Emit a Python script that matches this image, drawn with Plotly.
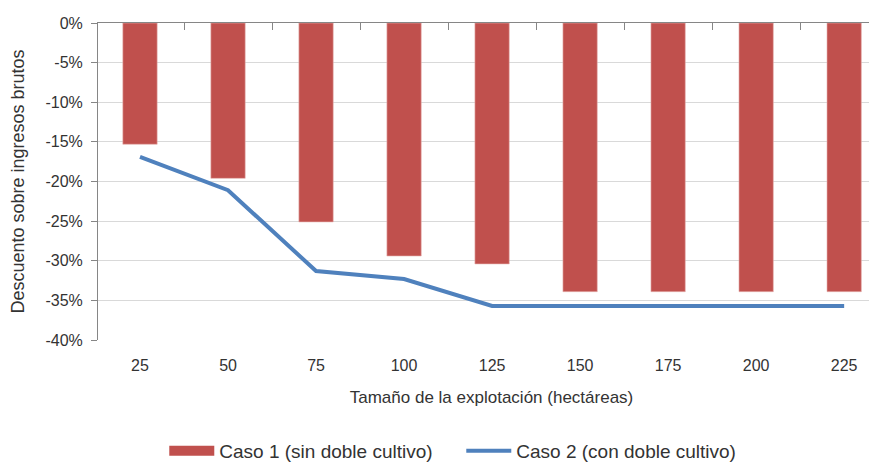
import plotly.graph_objects as go

sizes = [25, 50, 75, 100, 125, 150, 175, 200, 225]
caso1 = [-0.153, -0.196, -0.251, -0.294, -0.304, -0.339, -0.339, -0.339, -0.339]
caso2 = [-0.169, -0.211, -0.313, -0.323, -0.357, -0.357, -0.357, -0.357, -0.357]
y_ticks = [0, -0.05, -0.10, -0.15, -0.20, -0.25, -0.30, -0.35, -0.40]
y_tick_labels = ["0%", "-5%", "-10%", "-15%", "-20%", "-25%", "-30%", "-35%", "-40%"]
boundaries = [37.5, 62.5, 87.5, 112.5, 137.5, 162.5, 187.5, 212.5]

FONT = "Liberation Sans, Arial, sans-serif"
TXT = "#333333"
RED = "#C0504D"
BLUE = "#4F81BD"
XR = [13.07, 236.6]

fig = go.Figure()
fig.add_trace(go.Bar(
    x=sizes, y=caso1, name="Caso 1 (sin doble cultivo)",
    marker=dict(color=RED, line=dict(color="#E6B0AE", width=0.6)),
    showlegend=False, legendgroup="c1",
))
# legend proxy for the bar series (wide flat swatch like the original)
fig.add_trace(go.Scatter(
    x=[None], y=[None], name="Caso 1 (sin doble cultivo)", mode="lines",
    line=dict(color=RED, width=10), legendgroup="c1",
))
fig.add_trace(go.Scatter(
    x=sizes, y=caso2, name="Caso 2 (con doble cultivo)", mode="lines",
    line=dict(color=BLUE, width=4),
))
# invisible helper trace to carry the top axis with boundary ticks
fig.add_trace(go.Scatter(x=boundaries, y=[0]*len(boundaries), xaxis="x2",
                         mode="markers", marker=dict(opacity=0),
                         showlegend=False, hoverinfo="skip"))

fig.update_layout(
    width=877, height=462,
    margin=dict(l=90, r=0, t=15, b=123),
    paper_bgcolor="white", plot_bgcolor="white",
    font=dict(family=FONT, size=15, color=TXT),
    bargap=0.61,
    showlegend=True,
    legend=dict(orientation="h", x=0.4616, xanchor="center", y=-0.352, yanchor="middle",
                font=dict(family=FONT, size=19, color=TXT), itemwidth=45,
                entrywidth=237, entrywidthmode="pixels",
                traceorder="normal", tracegroupgap=0),
    xaxis=dict(
        range=XR, tickvals=sizes, ticktext=[str(s) for s in sizes],
        showgrid=False, zeroline=False, showline=False, ticks="",
        ticklabelstandoff=14, automargin=False,
        tickfont=dict(family=FONT, size=16, color=TXT),
        title=dict(text="Tamaño de la explotación (hectáreas)",
                   font=dict(family=FONT, size=17, color=TXT), standoff=18),
    ),
    xaxis2=dict(
        overlaying="x", side="top", range=XR,
        tickvals=boundaries, showticklabels=False, ticks="inside", ticklen=7,
        tickcolor="#868686", showline=True, linecolor="#868686", linewidth=1,
        showgrid=False, zeroline=False, anchor="y", automargin=False,
    ),
    yaxis=dict(
        range=[-0.40, 0], tickvals=y_ticks, ticktext=y_tick_labels,
        showgrid=True, gridcolor="#D9D9D9", gridwidth=1,
        zeroline=False, showline=True, linecolor="#868686", linewidth=1,
        ticks="outside", ticklen=6, tickcolor="#868686",
        ticklabelstandoff=5, automargin=False,
        tickfont=dict(family=FONT, size=16, color=TXT),
        title=dict(text="Descuento sobre ingresos brutos",
                   font=dict(family=FONT, size=18, color=TXT), standoff=22),
    ),
)

fig.write_html("out.html")
